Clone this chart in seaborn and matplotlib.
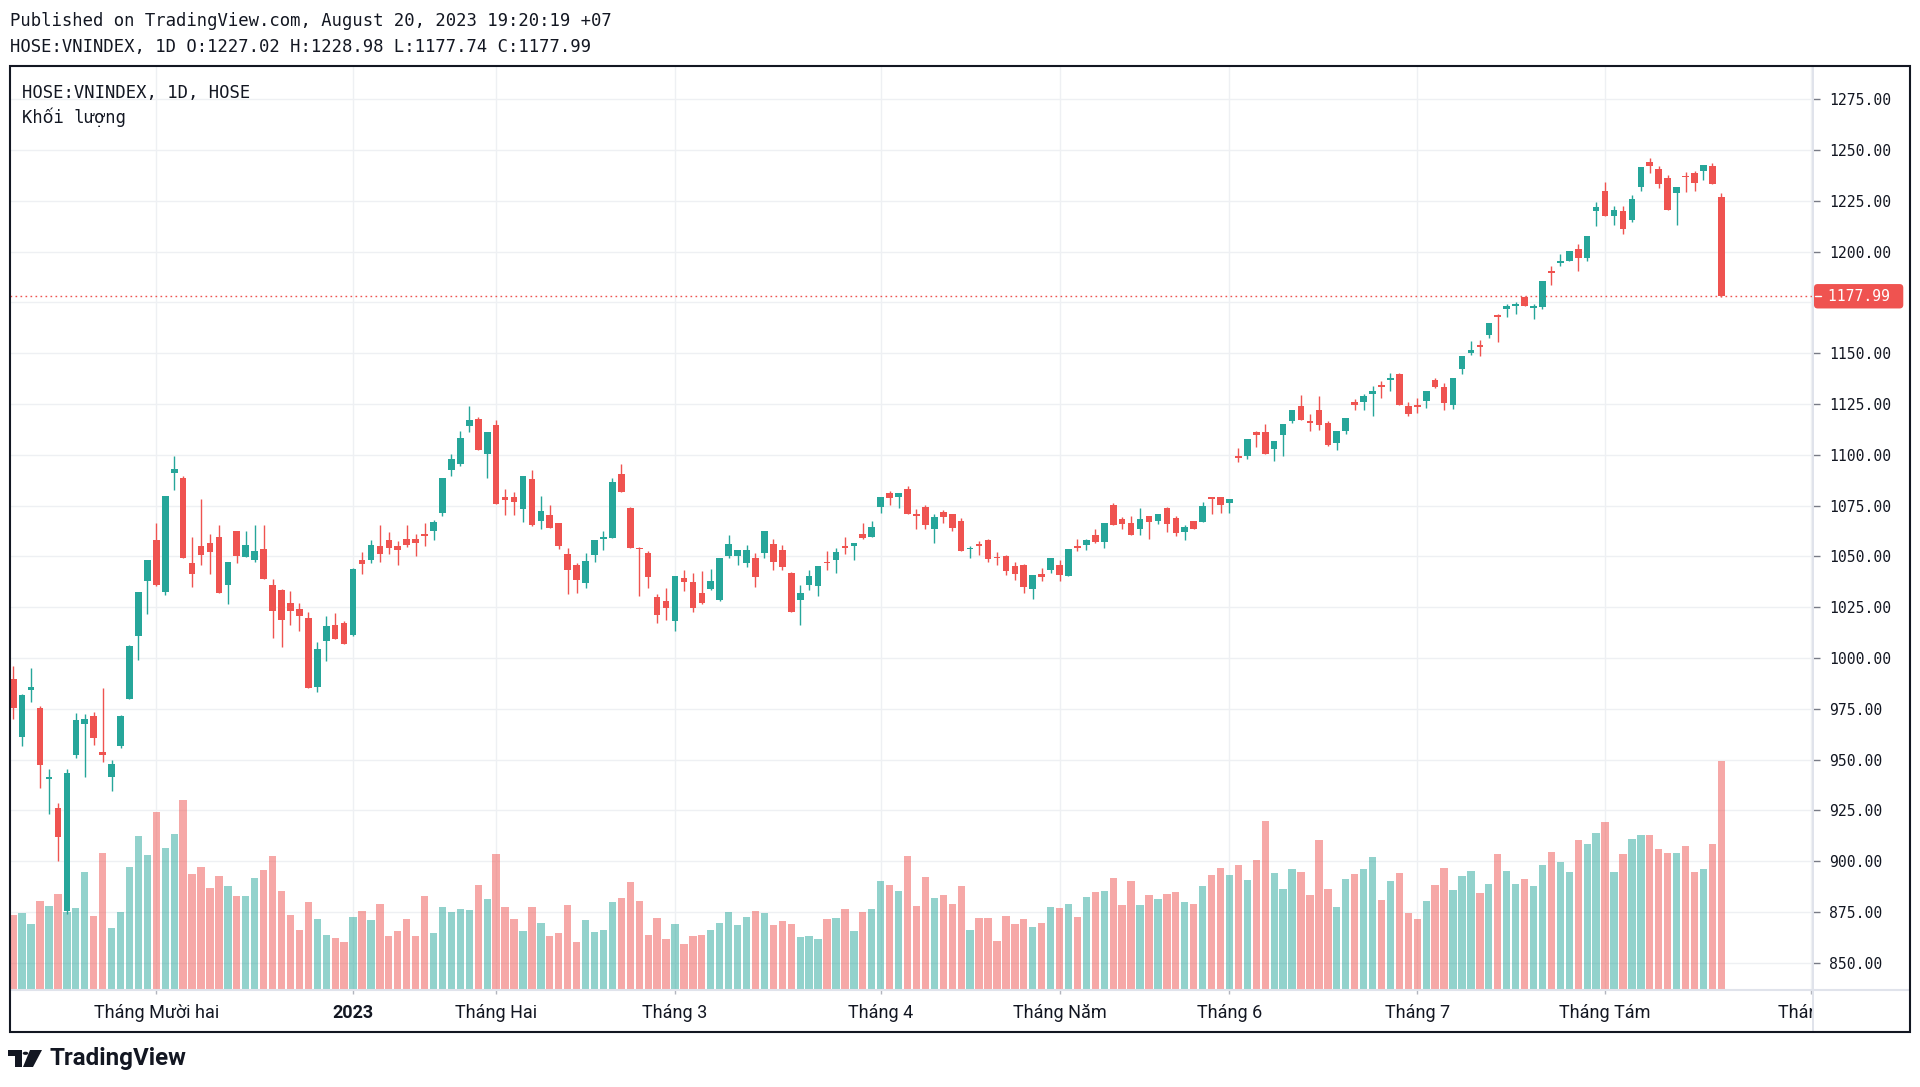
import numpy as np
import pandas as pd
import seaborn as sns
import matplotlib.pyplot as plt
from matplotlib import font_manager
from matplotlib.patches import Rectangle, Polygon, Circle
from matplotlib.lines import Line2D

# VN-Index daily candles (Nov 2022 -> 18 Aug 2023)
opens = [989.6, 961.0, 984.0, 975.2, 940.3, 926.2, 875.4, 952.2, 967.5, 971.3,
         953.6, 941.5, 956.6, 979.6, 1010.6, 1037.8, 1057.8, 1032.4, 1090.9, 1088.8,
         1046.6, 1054.9, 1056.6, 1059.3, 1035.7, 1062.3, 1049.6, 1048.1, 1053.7, 1035.9,
         1033.6, 1026.8, 1023.9, 1019.5, 985.8, 1008.5, 1016.1, 1017.2, 1011.4, 1048.4,
         1048.0, 1055.2, 1058.2, 1054.9, 1058.6, 1058.6, 1060.9, 1062.4, 1071.4, 1092.3,
         1095.2, 1114.1, 1117.6, 1100.6, 1114.7, 1079.2, 1079.0, 1073.2, 1088.0, 1067.3,
         1070.4, 1066.2, 1051.0, 1045.7, 1037.1, 1050.8, 1058.7, 1059.1, 1090.3, 1073.8,
         1054.3, 1051.7, 1030.1, 1027.8, 1018.0, 1039.1, 1037.3, 1032.2, 1033.8, 1028.3,
         1050.4, 1050.4, 1046.9, 1049.2, 1051.7, 1056.2, 1053.3, 1042.0, 1028.3, 1035.8,
         1035.2, 1047.4, 1048.0, 1054.9, 1055.2, 1061.1, 1059.5, 1074.1, 1081.0, 1079.2,
         1083.3, 1070.8, 1074.1, 1063.6, 1071.6, 1070.8, 1067.3, 1053.5, 1056.2, 1058.0,
         1049.8, 1050.0, 1045.1, 1045.9, 1034.0, 1041.2, 1043.2, 1045.9, 1040.2, 1055.2,
         1055.6, 1060.7, 1057.2, 1075.1, 1068.5, 1066.3, 1063.6, 1069.7, 1067.3, 1073.6,
         1068.9, 1062.0, 1067.3, 1066.9, 1079.2, 1079.0, 1076.1, 1099.6, 1099.6, 1111.2,
         1111.2, 1102.8, 1109.9, 1116.6, 1124.2, 1116.6, 1122.0, 1115.8, 1105.6, 1111.8,
         1125.8, 1125.8, 1130.1, 1134.2, 1136.9, 1139.6, 1123.9, 1124.5, 1126.6, 1136.6,
         1133.4, 1124.5, 1142.0, 1150.1, 1153.9, 1159.0, 1169.0, 1171.7, 1173.3, 1177.4,
         1172.0, 1172.5, 1190.6, 1194.4, 1195.5, 1201.4, 1196.8, 1219.8, 1229.8, 1217.6,
         1219.8, 1215.7, 1231.9, 1244.1, 1240.6, 1236.0, 1228.7, 1237.3, 1238.7, 1239.5,
         1241.9, 1227.02]
highs = [995.8, 982.2, 994.9, 976.4, 945.3, 928.5, 945.3, 972.8, 972.2, 973.4,
         985.2, 949.8, 971.9, 1006.5, 1032.7, 1048.4, 1066.4, 1079.9, 1099.2, 1089.4,
         1059.6, 1078.2, 1061.1, 1065.2, 1047.2, 1062.3, 1062.5, 1065.2, 1065.5, 1038.9,
         1033.9, 1033.0, 1027.1, 1022.4, 1008.0, 1020.6, 1022.1, 1018.2, 1044.2, 1052.3,
         1058.2, 1065.6, 1062.1, 1057.6, 1065.6, 1060.9, 1066.3, 1067.9, 1088.6, 1100.4,
         1111.7, 1124.2, 1118.4, 1111.0, 1117.0, 1083.1, 1081.9, 1089.5, 1092.3, 1079.6,
         1075.1, 1066.2, 1053.9, 1046.5, 1051.7, 1058.2, 1062.4, 1088.4, 1095.2, 1074.2,
         1054.7, 1052.7, 1031.7, 1034.6, 1040.2, 1043.5, 1042.0, 1042.6, 1043.9, 1049.2,
         1060.5, 1052.9, 1055.6, 1051.7, 1062.4, 1058.7, 1055.6, 1042.4, 1036.1, 1043.2,
         1045.1, 1052.7, 1053.9, 1059.7, 1056.6, 1066.3, 1067.5, 1079.2, 1082.1, 1081.0,
         1084.5, 1073.2, 1075.5, 1070.6, 1072.8, 1070.8, 1068.9, 1054.9, 1057.6, 1058.4,
         1051.9, 1050.6, 1047.4, 1046.3, 1040.8, 1044.3, 1049.0, 1048.2, 1053.7, 1058.6,
         1058.6, 1063.6, 1066.5, 1076.3, 1069.5, 1069.9, 1073.6, 1070.0, 1070.8, 1074.1,
         1069.9, 1065.6, 1067.3, 1076.9, 1079.2, 1079.4, 1078.0, 1103.1, 1107.7, 1111.8,
         1115.0, 1106.9, 1115.3, 1122.0, 1129.3, 1119.9, 1128.8, 1116.6, 1111.5, 1118.0,
         1127.2, 1130.1, 1133.9, 1136.1, 1140.1, 1140.1, 1125.8, 1128.0, 1131.5, 1138.0,
         1135.3, 1138.0, 1148.8, 1156.0, 1156.3, 1165.0, 1169.3, 1174.4, 1175.2, 1177.9,
         1174.4, 1185.5, 1192.8, 1199.0, 1200.3, 1203.6, 1207.6, 1224.4, 1234.1, 1222.5,
         1222.5, 1227.9, 1241.4, 1246.0, 1241.9, 1237.9, 1231.9, 1239.2, 1239.5, 1242.7,
         1243.5, 1228.98]
lows = [969.9, 956.6, 978.1, 935.9, 923.4, 899.9, 873.9, 950.7, 941.2, 957.2,
        948.6, 934.4, 955.7, 979.6, 998.8, 1021.5, 1035.6, 1031.0, 1082.6, 1049.0,
        1034.8, 1045.7, 1041.3, 1032.1, 1026.5, 1046.6, 1049.6, 1047.2, 1038.9, 1009.7,
        1005.3, 1016.2, 1013.2, 985.0, 983.4, 998.7, 1009.1, 1006.9, 1011.0, 1041.2,
        1046.5, 1047.1, 1051.0, 1045.9, 1054.7, 1050.2, 1055.2, 1057.8, 1069.7, 1089.5,
        1094.6, 1111.4, 1102.4, 1088.4, 1075.7, 1070.4, 1070.2, 1066.9, 1065.0, 1063.4,
        1064.0, 1053.7, 1031.3, 1032.2, 1034.2, 1047.1, 1052.9, 1059.1, 1081.5, 1054.3,
        1030.3, 1034.2, 1017.4, 1018.6, 1013.2, 1032.8, 1022.5, 1026.4, 1033.2, 1027.9,
        1049.0, 1045.9, 1044.9, 1034.8, 1049.0, 1043.1, 1043.1, 1022.5, 1016.3, 1033.4,
        1030.3, 1043.5, 1041.6, 1051.3, 1048.0, 1058.7, 1059.5, 1071.2, 1075.1, 1073.8,
        1070.6, 1063.6, 1063.4, 1056.6, 1066.6, 1062.4, 1052.7, 1049.0, 1050.8, 1047.1,
        1045.9, 1040.8, 1038.5, 1032.2, 1028.9, 1037.7, 1042.0, 1038.1, 1040.2, 1052.7,
        1053.1, 1056.8, 1053.9, 1065.6, 1063.4, 1060.5, 1060.7, 1058.5, 1065.8, 1062.0,
        1060.1, 1058.2, 1063.6, 1066.9, 1071.0, 1071.2, 1071.3, 1096.4, 1097.7, 1103.7,
        1100.4, 1096.9, 1099.6, 1115.8, 1116.9, 1111.8, 1112.3, 1104.5, 1102.3, 1110.4,
        1122.0, 1122.0, 1119.3, 1128.0, 1131.2, 1124.7, 1119.3, 1120.7, 1123.1, 1132.8,
        1122.0, 1122.3, 1139.6, 1149.0, 1148.8, 1157.4, 1155.5, 1167.9, 1169.5, 1173.0,
        1166.6, 1171.7, 1183.3, 1192.8, 1195.5, 1190.6, 1195.5, 1212.5, 1217.6, 1213.0,
        1208.4, 1214.4, 1230.0, 1238.7, 1231.1, 1220.3, 1213.0, 1229.2, 1230.0, 1235.2,
        1233.3, 1177.74]
closes = [975.2, 981.7, 985.5, 947.1, 941.5, 911.7, 943.3, 969.3, 969.9, 960.4,
          952.2, 947.7, 971.3, 1005.9, 1032.4, 1048.4, 1035.9, 1079.9, 1093.2, 1049.0,
          1041.3, 1050.7, 1051.9, 1032.1, 1047.2, 1050.4, 1055.5, 1052.5, 1038.9, 1023.3,
          1018.9, 1023.0, 1020.6, 985.2, 1004.5, 1015.9, 1009.1, 1006.9, 1043.9, 1046.1,
          1055.8, 1051.3, 1054.3, 1053.3, 1055.8, 1056.6, 1060.1, 1066.7, 1088.4, 1098.1,
          1108.0, 1117.0, 1102.4, 1111.0, 1075.7, 1077.6, 1076.7, 1089.5, 1065.6, 1072.2,
          1064.0, 1055.2, 1043.5, 1038.5, 1047.8, 1058.2, 1059.5, 1086.6, 1081.9, 1054.3,
          1053.5, 1039.6, 1021.1, 1024.5, 1040.2, 1037.3, 1024.5, 1026.8, 1037.7, 1049.2,
          1056.0, 1052.9, 1052.9, 1039.7, 1062.4, 1047.1, 1044.9, 1022.7, 1032.2, 1040.2,
          1045.1, 1046.5, 1051.9, 1053.9, 1056.6, 1059.1, 1064.6, 1079.2, 1078.6, 1081.0,
          1070.6, 1069.9, 1065.4, 1069.5, 1069.3, 1064.0, 1052.7, 1054.3, 1055.2, 1048.8,
          1049.0, 1042.6, 1041.2, 1034.8, 1040.8, 1039.7, 1049.0, 1040.6, 1053.7, 1053.9,
          1058.2, 1057.2, 1066.5, 1065.6, 1066.0, 1060.5, 1068.2, 1067.0, 1070.8, 1065.8,
          1061.5, 1064.6, 1063.6, 1074.7, 1078.4, 1075.1, 1078.0, 1098.3, 1107.7, 1109.6,
          1100.4, 1106.9, 1115.3, 1122.0, 1116.9, 1115.8, 1114.7, 1104.7, 1111.5, 1118.0,
          1124.7, 1128.8, 1131.2, 1133.4, 1137.9, 1124.7, 1119.9, 1123.4, 1131.5, 1133.4,
          1125.3, 1138.0, 1148.8, 1151.5, 1152.8, 1165.0, 1167.7, 1173.3, 1174.4, 1173.0,
          1173.0, 1185.5, 1189.5, 1195.5, 1200.3, 1196.8, 1207.6, 1221.9, 1217.6, 1220.3,
          1210.9, 1225.7, 1241.4, 1242.2, 1233.3, 1220.3, 1231.9, 1236.5, 1233.8, 1242.7,
          1233.3, 1177.99]
# volume, million shares
volumes = [369, 381, 325, 440, 413, 473, 384, 405, 579, 363,
           676, 305, 384, 603, 759, 662, 877, 700, 768, 936,
           573, 606, 502, 561, 511, 464, 464, 549, 591, 659,
           488, 369, 295, 432, 350, 269, 257, 234, 357, 390,
           343, 423, 265, 292, 349, 265, 464, 280, 409, 384,
           399, 394, 518, 448, 670, 409, 349, 288, 409, 331,
           265, 280, 417, 234, 343, 286, 296, 433, 452, 530,
           438, 273, 355, 251, 325, 228, 265, 269, 296, 331,
           382, 318, 361, 388, 380, 320, 339, 327, 261, 265,
           253, 349, 355, 401, 288, 384, 398, 536, 515, 486,
           659, 413, 556, 452, 468, 423, 513, 293, 355, 355,
           242, 365, 326, 349, 310, 330, 410, 404, 423, 357,
           458, 484, 486, 552, 420, 536, 420, 468, 449, 472,
           482, 433, 423, 512, 568, 598, 566, 615, 542, 641,
           831, 574, 499, 596, 580, 466, 736, 499, 407, 547,
           569, 593, 655, 445, 534, 574, 377, 350, 439, 515,
           601, 493, 561, 588, 477, 520, 669, 588, 520, 547,
           512, 615, 677, 628, 582, 739, 717, 771, 828, 582,
           669, 744, 763, 763, 696, 674, 674, 709, 582, 593,
           720, 1128]

month_pos = [16, 38, 54, 74, 97, 117, 136, 157, 178, 201]
month_labels = ["Tháng Mười hai", "2023", "Tháng Hai", "Tháng 3", "Tháng 4",
                "Tháng Năm", "Tháng 6", "Tháng 7", "Tháng Tám", "Tháng 9"]
price_ticks = list(range(850, 1276, 25))

UP = "#26a69a"
DOWN = "#ef5350"
TXT = "#131722"
GRID = "#eef0f3"
LINE = "#e0e3eb"

sns.set_theme(style="white")
MONO = ["DejaVu Sans Mono", "DejaVu Sans"]
plt.rcParams["font.family"] = MONO

names = {f.name for f in font_manager.fontManager.ttflist}
if "Liberation Sans Narrow" in names:
    XFONT, XSIZE = ["Liberation Sans Narrow", "DejaVu Sans"], 15.5
else:
    XFONT, XSIZE = ["Roboto", "DejaVu Sans"], 13

W, H = 1920, 1087
fig = plt.figure(figsize=(W / 100, H / 100), dpi=100, facecolor="white")


def fx(px):
    return px / W


def fy(py):
    return 1 - py / H


# plot area (pixels)
L, R, T, B = 10, 1813, 66, 990
ax = fig.add_axes([fx(L), fy(B), fx(R) - fx(L), fy(T) - fy(B)])
ax_v = ax.twinx()
ax_c = ax.twinx()
ax.set_zorder(0)
ax_v.set_zorder(1)
ax_c.set_zorder(2)
ax.set_facecolor("white")

df = pd.DataFrame({"o": opens, "h": highs, "l": lows, "c": closes, "vol": volumes})
df["i"] = np.arange(len(df))
df["dir"] = np.where(df["c"] >= df["o"], "up", "down")

# volume bars
sns.barplot(data=df, x="i", y="vol", hue="dir", palette={"up": UP, "down": DOWN},
            dodge=False, width=0.82, saturation=1, alpha=0.5, errorbar=None,
            legend=False, linewidth=0, ax=ax_v)

# candles
cols = np.where(df["dir"] == "up", UP, DOWN)
ax_c.vlines(df["i"], df["l"], df["h"], colors=cols, lw=1.0)
body_lo = np.minimum(df["o"], df["c"])
body_h = np.maximum((df["c"] - df["o"]).abs(), 0.6)
ax_c.bar(df["i"], body_h, bottom=body_lo, width=0.74, color=cols, linewidth=0)

# last price line
last = closes[-1]
ax_c.axhline(last, color=DOWN, lw=1, ls=(0, (1.2, 2.4)), zorder=0.5)

XLIM = (-0.36, 201.25)
YLIM = (836.6, 1291.3)
for a in (ax, ax_v, ax_c):
    a.set_xlim(*XLIM)
    for s in a.spines.values():
        s.set_visible(False)
ax.set_ylim(*YLIM)
ax_c.set_ylim(*YLIM)
ax_v.set_ylim(0, 4547)
ax_v.yaxis.set_visible(False)
ax_c.yaxis.set_visible(False)
ax_v.set_xlabel("")
ax_v.set_ylabel("")

# price scale; the label hidden under the last-price tag is dropped
ax.yaxis.tick_right()
ax.set_yticks(price_ticks)
ax.set_yticklabels(["" if abs(p - last) < 12 else f"{p:.2f}" for p in price_ticks],
                   family=MONO)
ax.set_xticks(month_pos)
ax.set_xticklabels(month_labels, family=XFONT)
ax.get_xticklabels()[1].set_fontweight("bold")
ax.tick_params(axis="y", right=True, left=False, length=5, width=1, color="#787b86",
               pad=6.5, labelsize=10.6, labelcolor=TXT)
ax.tick_params(axis="x", bottom=True, length=3, width=1, color="#b2b5be",
               pad=6.8, labelsize=XSIZE, labelcolor=TXT)
ax.grid(True, color=GRID, lw=1)
ax.set_xlabel("")
ax.set_ylabel("")

# last price tag
ytf = ax_c.get_yaxis_transform()
ax_c.text((1818.7 - L) / (R - L), last, f" {last:.2f} ", transform=ytf,
          ha="left", va="center", color="white", fontsize=10.6, family=MONO,
          clip_on=False, zorder=10,
          bbox=dict(boxstyle="round,pad=0.32,rounding_size=0.25", fc=DOWN, ec="none"))
ax_c.plot([(1815 - L) / (R - L), (1821 - L) / (R - L)], [last, last], transform=ytf,
          color="white", lw=1, clip_on=False, zorder=11)

# legend text inside the pane
fig.text(fx(22), fy(93), "HOSE:VNINDEX, 1D, HOSE", family=MONO, fontsize=12.4,
         color=TXT, va="center")
fig.text(fx(22), fy(117.5), "Khối lượng", family=MONO, fontsize=12.4,
         color=TXT, va="center")

# header
fig.text(fx(10), fy(21), "Published on TradingView.com, August 20, 2023 19:20:19 +07",
         family=MONO, fontsize=12.4, color=TXT, va="center")
fig.text(fx(10), fy(46.5),
         f"HOSE:VNINDEX, 1D O:{opens[-1]:.2f} H:{highs[-1]:.2f} "
         f"L:{lows[-1]:.2f} C:{closes[-1]:.2f}",
         family=MONO, fontsize=12.4, color=TXT, va="center")

# cover for the cut month label in the price-scale column
fig.add_artist(Rectangle((fx(1814), fy(1031)), fx(1909) - fx(1814), fy(991) - fy(1031),
                         transform=fig.transFigure, fc="white", ec="none", zorder=3))
# pane separators and frame
fig.add_artist(Line2D([fx(R), fx(R)], [fy(T), fy(1032)], transform=fig.transFigure,
                      color=LINE, lw=1.4, zorder=4))
fig.add_artist(Line2D([fx(L), fx(1910)], [fy(B), fy(B)], transform=fig.transFigure,
                      color=LINE, lw=1.5, zorder=4))
fig.add_artist(Rectangle((fx(10), fy(1032)), fx(1910) - fx(10), fy(66) - fy(1032),
                         transform=fig.transFigure, fill=False, ec=TXT, lw=1.5, zorder=5))


# TradingView logo
def px_pts(pts):
    return [(fx(x), fy(y)) for x, y in pts]


fig.add_artist(Polygon(px_pts([(8, 1050), (22, 1050), (22, 1067), (15, 1067),
                                (15, 1056), (8, 1056)]),
                       transform=fig.transFigure, fc=TXT, ec="none"))
fig.add_artist(Circle((fx(25.5), fy(1053.3)), 2.8 / W, transform=fig.transFigure,
                      fc=TXT, ec="none"))
fig.add_artist(Polygon(px_pts([(30, 1050), (42, 1050), (33, 1067), (23, 1067)]),
                       transform=fig.transFigure, fc=TXT, ec="none"))
fig.text(fx(49), fy(1059), "TradingView", family=["Roboto", "DejaVu Sans"],
         fontweight="bold", fontsize=17.4, color=TXT, va="center")

fig.savefig("out.png", dpi=100, facecolor="white")
